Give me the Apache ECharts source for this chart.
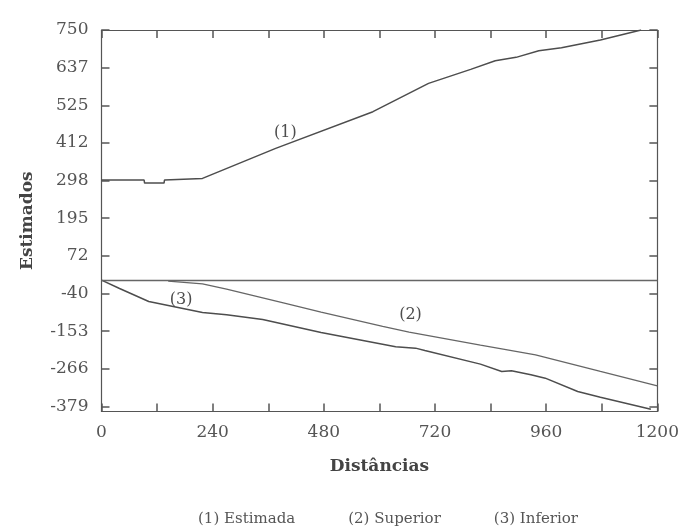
<!DOCTYPE html>
<html>
<head>
<meta charset="utf-8">
<script src="https://cdn.jsdelivr.net/npm/echarts@6/dist/echarts.min.js"></script>
<style>
  html, body { margin: 0; padding: 0; background: #fff; }
  #line-chart { width: 682px; height: 528px; }
</style>
</head>
<body>
<div id="line-chart"></div>
<script>
// valores (distância, estimado)
var estimada = [[0,300],[92,300],[93,291],[135,291],[136,300],[218,305],[376,395],[586,505],[706,590],[797,632],[850,658],[895,668],[944,688],[993,697],[1077,720],[1165,750]];
var superior = [[144,-3],[218,-11],[270,-27],[397,-70],[474,-96],[607,-139],[664,-156],[818,-195],[867,-207],[937,-224],[1077,-274],[1200,-317]];
var inferior = [[0,0],[39,-25],[102,-64],[218,-97],[270,-104],[348,-118],[474,-157],[635,-200],[678,-204],[698,-211],[818,-252],[864,-274],[885,-272],[927,-284],[958,-294],[1028,-334],[1077,-351],[1186,-387]];

var yLabels = ['-379','-266','-153','-40','72','195','298','412','525','637','750'];
var seriesNames = ['(1) Estimada', '(2) Superior', '(3) Inferior'];

var yMin = -394, yMax = 750;
var yTicks = [];
for (var i = 0; i < yLabels.length; i++) {
	yTicks[i] = -379 + i * 112.9;
}

var font = 'DejaVu Serif';
var ink = '#4d4d4d';

var lineChart = echarts.init(document.getElementById('line-chart'));

function tagPoint(text, x, y) {
	return {
		symbol: 'circle',
		symbolSize: 0,
		silent: true,
		label: { show: true, formatter: text, color: ink, fontFamily: font, fontSize: 16 },
		data: [{ coord: [x, y] }]
	};
}

function frameLine() {
	return { show: true, onZero: false, lineStyle: { color: '#555', width: 1.2 } };
}
function xTick() {
	return { show: true, inside: true, length: 8, lineStyle: { color: '#555', width: 1.5 } };
}
function yTick() {
	return { show: true, inside: true, length: 8, customValues: yTicks, lineStyle: { color: '#555', width: 1.5 } };
}

lineChart.setOption({
	animation: false,
	backgroundColor: '#fff',
	grid: { left: 101.5, right: 10.5, top: 30, bottom: 116.5 },
	legend: {
		data: seriesNames,
		left: 188,
		top: 507,
		icon: 'none',
		itemWidth: 0,
		itemGap: 48,
		selectedMode: false,
		textStyle: { color: '#555', fontFamily: font, fontSize: 15 }
	},
	xAxis: [{
		type: 'value',
		position: 'bottom',
		min: 0, max: 1200, interval: 120,
		name: 'Distâncias',
		nameLocation: 'middle',
		nameGap: 47,
		nameTextStyle: { color: '#444', fontFamily: font, fontSize: 17, fontWeight: 'bold' },
		axisLine: frameLine(),
		axisTick: xTick(),
		axisLabel: {
			margin: 13,
			color: '#555', fontFamily: font, fontSize: 17,
			formatter: function (v) { return v % 240 === 0 ? String(v) : ''; }
		},
		splitLine: { show: false }
	}, {
		type: 'value',
		position: 'top',
		min: 0, max: 1200, interval: 120,
		axisLine: frameLine(),
		axisTick: xTick(),
		axisLabel: { show: false },
		splitLine: { show: false }
	}],
	yAxis: [{
		type: 'value',
		position: 'left',
		min: yMin, max: yMax,
		name: 'Estimados',
		nameLocation: 'middle',
		nameGap: 65,
		nameTextStyle: { color: '#444', fontFamily: font, fontSize: 17, fontWeight: 'bold' },
		axisLine: frameLine(),
		axisTick: yTick(),
		axisLabel: {
			margin: 13,
			customValues: yTicks,
			color: '#555', fontFamily: font, fontSize: 17,
			padding: [0, 0, 4, 0],
			formatter: function (v) {
				var k = Math.round((v + 379) / 112.9);
				return yLabels[k];
			}
		},
		splitLine: { show: false }
	}, {
		type: 'value',
		position: 'right',
		min: yMin, max: yMax,
		axisLine: frameLine(),
		axisTick: yTick(),
		axisLabel: { show: false },
		splitLine: { show: false }
	}],
	series: [{
		name: seriesNames[0],
		type: 'line',
		data: estimada,
		showSymbol: false,
		lineStyle: { color: ink, width: 1.5 },
		markPoint: tagPoint('(1)', 397, 441),
		markLine: {
			silent: true,
			symbol: 'none',
			label: { show: false },
			lineStyle: { color: '#666', width: 1.3, type: 'solid' },
			data: [{ yAxis: 0 }]
		}
	}, {
		name: seriesNames[1],
		type: 'line',
		data: superior,
		showSymbol: false,
		lineStyle: { color: '#666', width: 1.3 },
		markPoint: tagPoint('(2)', 667, -104)
	}, {
		name: seriesNames[2],
		type: 'line',
		data: inferior,
		showSymbol: false,
		lineStyle: { color: ink, width: 1.5 },
		markPoint: tagPoint('(3)', 172, -60)
	}]
});
</script>
</body>
</html>
